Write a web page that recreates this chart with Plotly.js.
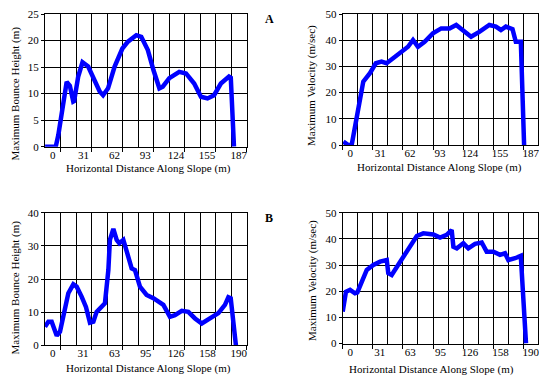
<!DOCTYPE html>
<html>
<head>
<meta charset="utf-8">
<script src="https://cdn.plot.ly/plotly-3.0.1.min.js"></script>
<style>
html,body{margin:0;padding:0;background:#fff;}
#chart{width:539px;height:376px;}
</style>
</head>
<body>
<div id="chart"></div>
<script>
// ---- Data ----
// Panel A: distance tick labels
const aTickVals = [0, 31, 62, 93, 124, 155, 187];
const aTickText = ['0', '31', '62', '93', '124', '155', '187'];
// Panel B: distance tick labels
const bTickVals = [0, 31, 63, 95, 126, 158, 190];
const bTickText = ['0', '31', '63', '95', '126', '158', '190'];

// A - Maximum Bounce Height (m)
const aHeightX = [-7.7, -3, 3, 5.6, 8, 10.6, 14, 17.2, 20.6, 21.5, 25.6, 29.9, 35.6, 42.2, 47.2, 50.6, 55.6, 62.2, 70, 75.6, 84, 89, 95.6, 101.3, 107.2, 110.6, 117.2, 127.2, 134, 142.2, 149, 155.6, 162.2, 169, 177.2, 179, 182.2];
const aHeightY = [0, 0, 0, 2.2, 5.5, 8.8, 12.2, 11.5, 8.5, 8.6, 13.2, 15.9, 15.1, 12.6, 10.4, 9.7, 11, 15.1, 18.5, 19.8, 21.0, 20.7, 18.2, 14.4, 11.0, 11.3, 12.9, 14.1, 13.8, 11.9, 9.4, 9.1, 9.7, 11.9, 13.2, 13, 0];

// A - Maximum Velocity (m/sec)
const aVelX = [-7.1, -2, 1.5, 4.9, 8.3, 13.5, 20.4, 26.5, 32.4, 37.6, 44.4, 53, 59.8, 65, 70.1, 77, 85.6, 94.2, 102.8, 109.7, 116.5, 125.1, 133.6, 144, 150.8, 156, 161.1, 168, 171.4, 176.6, 180];
const aVelY = [1.3, 0, 0, 7, 15.9, 24.2, 27.4, 31.2, 31.8, 31.2, 33.1, 35.6, 37.5, 40.1, 37.5, 39.4, 42.6, 44.5, 44.5, 45.8, 43.9, 41.3, 43.2, 45.8, 45.2, 43.9, 45.2, 44.2, 39.4, 39.4, 0];

// B - Maximum Bounce Height (m)
const bHeightX = [-7.9, -4.5, -1.1, 2.2, 4.1, 7.4, 12.5, 15.9, 21, 24.4, 29.5, 33.9, 38, 41.5, 44.8, 50, 53.3, 56.8, 58.4, 61.9, 65.3, 68, 72.1, 77.2, 80.6, 84, 89.1, 95.9, 102.8, 113, 119.7, 124.8, 131.8, 138.5, 145.3, 152.2, 160.6, 169.2, 175.9, 179.4, 181.8, 187.1];
const bHeightY = [5.6, 7.1, 7.1, 4.1, 2.9, 4.1, 11.6, 15.7, 18.4, 17.7, 14.7, 11.6, 6.8, 7.1, 10.1, 11.6, 12.7, 22.7, 31.8, 35.1, 31.8, 30.8, 31.8, 26.7, 23.2, 22.7, 17.7, 15.2, 14.2, 12.2, 8.6, 9.1, 10.4, 10.1, 8.1, 6.6, 8.1, 9.7, 12.2, 14.5, 14.2, 0];

// B - Maximum Velocity (m/sec)
const bVelX = [-7.9, -4.5, -0.2, 5, 7.5, 12.1, 17.4, 24.3, 31.4, 38.4, 40, 43.6, 50.6, 57.6, 64.7, 70, 76.9, 87.4, 94.5, 101.5, 106.7, 108.5, 112.1, 119, 124.2, 131.3, 138.3, 143.5, 150.6, 157.5, 162.8, 166.3, 173.4, 179.4, 184.9];
const bVelY = [12.2, 19.8, 20.5, 19.2, 19.5, 23.1, 28.1, 30.0, 31.3, 31.9, 26.9, 26.2, 30, 33.9, 38.3, 41.1, 42.1, 41.7, 40.5, 41.5, 43.4, 37, 36.4, 38.3, 36.4, 38.1, 38.6, 35.1, 35.1, 33.9, 34.5, 31.9, 32.6, 33.5, 0];

// ---- Styling / layout ----
const FONT = 'Liberation Serif, Times New Roman, serif';
const tickFont = {family: FONT, size: 11, color: '#000'};
const GRID = '#000';
const W = 539, H = 376;
const px = v => v / W;
const py = v => 1 - v / H;

const xDomL = [px(45), px(246.5)];
const xDomR = [px(342.7), px(538.4)];
const yDomAL = [py(146.7), py(14)];
const yDomAR = [py(145), py(14)];
const yDomBL = [py(345.3), py(212.7)];
const yDomBR = [py(343.5), py(212.7)];

function gridAxis(domain, yName, tickVals, tickOnRight) {
  const last = tickVals[tickVals.length - 1];
  const g = last / 12;
  return {
    domain: domain, anchor: yName,
    range: [-g / 2, last + g / 2],
    showticklabels: false,
    tickmode: 'linear', tick0: tickOnRight ? g / 2 : -g / 2, dtick: 2 * g,
    ticks: 'outside', ticklen: 4, tickcolor: '#000', tickwidth: 1,
    showgrid: true, gridcolor: GRID, gridwidth: 1,
    minor: {tickmode: 'linear', tick0: -g / 2, dtick: g, showgrid: true, gridcolor: GRID, gridwidth: 1, ticks: ''},
    showline: true, linecolor: '#000', linewidth: 1, mirror: true,
    zeroline: false, fixedrange: true
  };
}
function labelAxis(over, yName, tickVals, tickText) {
  const last = tickVals[tickVals.length - 1];
  const g = last / 12;
  return {
    overlaying: over, anchor: yName, side: 'bottom',
    range: [-g / 2, last + g / 2],
    tickmode: 'array', tickvals: tickVals, ticktext: tickText,
    ticks: '', showgrid: false, showline: false, zeroline: false,
    tickfont: tickFont, ticklabelstandoff: 0, ticklabeloverflow: 'allow',
    fixedrange: true
  };
}
function valueAxis(domain, xName, maxV, step) {
  return {
    domain: domain, anchor: xName, range: [0, maxV],
    tickmode: 'linear', tick0: 0, dtick: step,
    ticks: 'outside', ticklen: 3, tickcolor: '#000',
    showgrid: true, gridcolor: GRID, gridwidth: 1,
    showline: true, linecolor: '#000', linewidth: 1, mirror: true,
    zeroline: false, tickfont: tickFont, fixedrange: true
  };
}

const lineStyle = {color: '#0000ff', width: 4.5};
const traces = [
  {x: aHeightX, y: aHeightY, xaxis: 'x', yaxis: 'y', mode: 'lines', line: lineStyle, cliponaxis: false, hoverinfo: 'skip'},
  {x: aVelX, y: aVelY, xaxis: 'x2', yaxis: 'y2', mode: 'lines', line: lineStyle, cliponaxis: false, hoverinfo: 'skip'},
  {x: bHeightX, y: bHeightY, xaxis: 'x3', yaxis: 'y3', mode: 'lines', line: lineStyle, cliponaxis: false, hoverinfo: 'skip'},
  {x: bVelX, y: bVelY, xaxis: 'x4', yaxis: 'y4', mode: 'lines', line: lineStyle, cliponaxis: false, hoverinfo: 'skip'},
  // empty helper traces so the overlaid label axes are drawn
  {x: [], y: [], xaxis: 'x5', yaxis: 'y', mode: 'lines', hoverinfo: 'skip'},
  {x: [], y: [], xaxis: 'x6', yaxis: 'y2', mode: 'lines', hoverinfo: 'skip'},
  {x: [], y: [], xaxis: 'x7', yaxis: 'y3', mode: 'lines', hoverinfo: 'skip'},
  {x: [], y: [], xaxis: 'x8', yaxis: 'y4', mode: 'lines', hoverinfo: 'skip'}
];

function title(text, x, y, angle) {
  return {text: text, xref: 'paper', yref: 'paper', x: px(x), y: py(y),
    xanchor: 'center', yanchor: 'middle', showarrow: false, textangle: angle || 0,
    font: {family: FONT, size: 11, color: '#000'}};
}
const xTitle = 'Horizontal Distance Along Slope (m)';
const annotations = [
  title('Maximum Bounce Height (m)', 15, 93.5, -90),
  title('Maximum Velocity (m/sec)', 312, 86, -90),
  title('Maximum Bounce Height (m)', 15, 287.5, -90),
  title('Maximum Velocity (m/sec)', 312, 281, -90),
  title(xTitle, 148.8, 168.5),
  title(xTitle, 439.3, 167),
  title(xTitle, 148.8, 368.3),
  title(xTitle, 431, 369),
  {text: '<b>A</b>', xref: 'paper', yref: 'paper', x: px(269), y: py(19), xanchor: 'center', yanchor: 'middle', showarrow: false, font: {family: FONT, size: 12, color: '#000'}},
  {text: '<b>B</b>', xref: 'paper', yref: 'paper', x: px(269), y: py(218), xanchor: 'center', yanchor: 'middle', showarrow: false, font: {family: FONT, size: 12, color: '#000'}}
];

const layout = {
  width: W, height: H,
  margin: {l: 0, r: 0, t: 0, b: 0},
  paper_bgcolor: '#fff', plot_bgcolor: '#fff',
  showlegend: false,
  font: {family: FONT, size: 11, color: '#000'},
  xaxis: gridAxis(xDomL, 'y', aTickVals, true),
  yaxis: valueAxis(yDomAL, 'x', 25, 5),
  xaxis2: gridAxis(xDomR, 'y2', aTickVals, false),
  yaxis2: valueAxis(yDomAR, 'x2', 50, 10),
  xaxis3: gridAxis(xDomL, 'y3', bTickVals, true),
  yaxis3: valueAxis(yDomBL, 'x3', 40, 10),
  xaxis4: gridAxis(xDomR, 'y4', bTickVals, false),
  yaxis4: valueAxis(yDomBR, 'x4', 50, 10),
  xaxis5: labelAxis('x', 'y', aTickVals, aTickText),
  xaxis6: labelAxis('x2', 'y2', aTickVals, aTickText),
  xaxis7: labelAxis('x3', 'y3', bTickVals, bTickText),
  xaxis8: labelAxis('x4', 'y4', bTickVals, bTickText),
  annotations: annotations
};

Plotly.newPlot('chart', traces, layout, {staticPlot: true, displayModeBar: false});
</script>
</body>
</html>
